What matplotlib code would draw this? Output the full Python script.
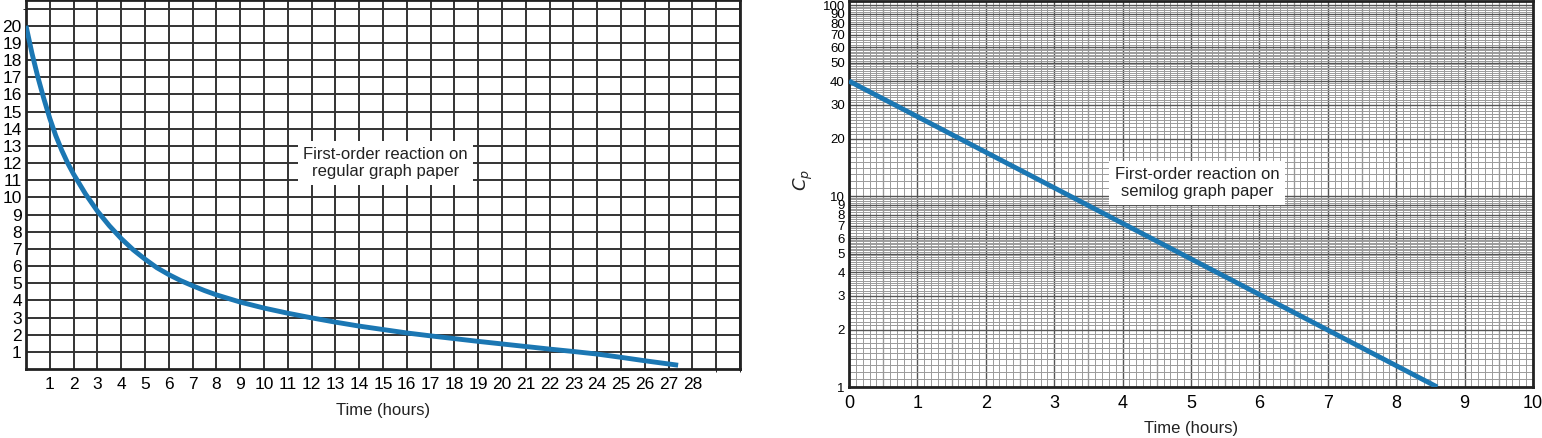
import numpy as np
import matplotlib
matplotlib.use('Agg')
import matplotlib.pyplot as plt
from matplotlib.ticker import FixedLocator, FixedFormatter, NullFormatter

plt.rcParams['font.family'] = ['Liberation Sans', 'DejaVu Sans']

# Крива на звичайному папері
time_reg = [0, 0.25, 0.5, 0.75, 1, 1.25, 1.5, 1.75, 2, 2.5, 3, 3.5, 4, 4.5, 5, 5.5, 6, 6.5,
            7, 7.5, 8, 9, 10, 11, 12, 13, 14, 15, 16, 17, 18, 19, 20, 21, 22, 23, 24, 25,
            26, 27.4]
conc_reg = [20, 18.4, 17.0, 15.75, 14.6, 13.6, 12.75, 12.0, 11.35, 10.2, 9.2, 8.35, 7.6,
            6.95, 6.4, 5.9, 5.5, 5.15, 4.85, 4.57, 4.32, 3.9, 3.55, 3.25, 2.98, 2.73, 2.5,
            2.3, 2.1, 1.93, 1.77, 1.61, 1.46, 1.31, 1.16, 1.02, 0.87, 0.68, 0.48, 0.22]

# Пряма на напівлогарифмічному папері
time_log = [0, 8.6]
conc_log = [40, 1]

x_ticks_reg = list(range(1, 29))
y_ticks_reg = list(range(1, 21))
x_ticks_log = list(range(0, 11))
y_ticks_log = [1, 2, 3, 4, 5, 6, 7, 8, 9, 10, 20, 30, 40, 50, 60, 70, 80, 90, 100]

curve_color = '#1b77b3'

fig = plt.figure(figsize=(15.42, 4.38), dpi=100)

# --- ліва панель ---
ax1 = fig.add_axes([26 / 1542, 1 - 369 / 438, (740 - 26) / 1542, 369 / 438])
ax1.set_xlim(0, 30)
ax1.set_ylim(0, 21.5)
ax1.xaxis.set_major_locator(FixedLocator(x_ticks_reg))
ax1.yaxis.set_major_locator(FixedLocator(y_ticks_reg))
ax1.xaxis.set_minor_locator(FixedLocator([29, 30]))
ax1.yaxis.set_minor_locator(FixedLocator([21]))
ax1.grid(True, which='both', color='#333333', lw=1.4)
ax1.tick_params(length=0, labelsize=12.5, pad=6)
ax1.tick_params(axis='y', pad=3)
for s in ax1.spines.values():
    s.set_linewidth(2)
    s.set_color('#222222')
ax1.plot(time_reg, conc_reg, color=curve_color, lw=3.5, solid_capstyle='butt',
         solid_joinstyle='round', zorder=3)
ax1.text(15.1, 12.0, 'First-order reaction on\nregular graph paper', ha='center', va='center',
         fontsize=12, color='#222222', linespacing=1.2,
         bbox=dict(facecolor='white', edgecolor='none', pad=4))
ax1.set_xlabel('Time (hours)', fontsize=12, color='#222222', labelpad=8)

# --- права панель ---
ax2 = fig.add_axes([849 / 1542, 1 - 387 / 438, (1533 - 849) / 1542, 386 / 438])
ax2.set_yscale('log')
ax2.set_xlim(0, 10)
ax2.set_ylim(1, 105)
ax2.xaxis.set_major_locator(FixedLocator(x_ticks_log))
ax2.yaxis.set_major_locator(FixedLocator(y_ticks_log))
ax2.yaxis.set_major_formatter(FixedFormatter([str(v) for v in y_ticks_log]))
ax2.yaxis.set_minor_formatter(NullFormatter())

xm = np.round(np.arange(0, 10.001, 0.1), 2)
ym = []
for dec in (1, 10):
    ym += list(np.round(np.arange(1, 6, 0.1) * dec, 3)) + list(np.round(np.arange(6, 10, 0.2) * dec, 3))
ym.append(100)
ax2.xaxis.set_minor_locator(FixedLocator(xm))
ax2.yaxis.set_minor_locator(FixedLocator(ym))
ax2.grid(True, which='minor', color='#9a9a9a', lw=0.7)
ax2.grid(True, which='major', color='#555555', lw=1.0)
for v in (0.5, 1.5, 2.5, 3.5, 4.5, 5.5, 6.5, 7.5, 8.5, 9.5):
    ax2.axvline(v, color='#777777', lw=0.9, zorder=0.5)
ax2.set_axisbelow(True)
ax2.tick_params(which='both', length=0)
ax2.tick_params(axis='x', labelsize=13, pad=6)
ax2.tick_params(axis='y', labelsize=9.5, pad=3)
for s in ax2.spines.values():
    s.set_linewidth(2)
    s.set_color('#222222')
ax2.plot(time_log, conc_log, color=curve_color, lw=3.5, solid_capstyle='butt', zorder=3)
ax2.text(5.09, 11.7, 'First-order reaction on\nsemilog graph paper', ha='center', va='center',
         fontsize=12, color='#222222', linespacing=1.2,
         bbox=dict(facecolor='white', edgecolor='none', pad=4))
ax2.set_xlabel('Time (hours)', fontsize=12, color='#222222', labelpad=6)
ax2.set_ylabel('$C_p$', fontsize=13, color='#222222')
ax2.yaxis.set_label_coords(-0.05, 0.535)

fig.savefig('out.png', dpi=100)
